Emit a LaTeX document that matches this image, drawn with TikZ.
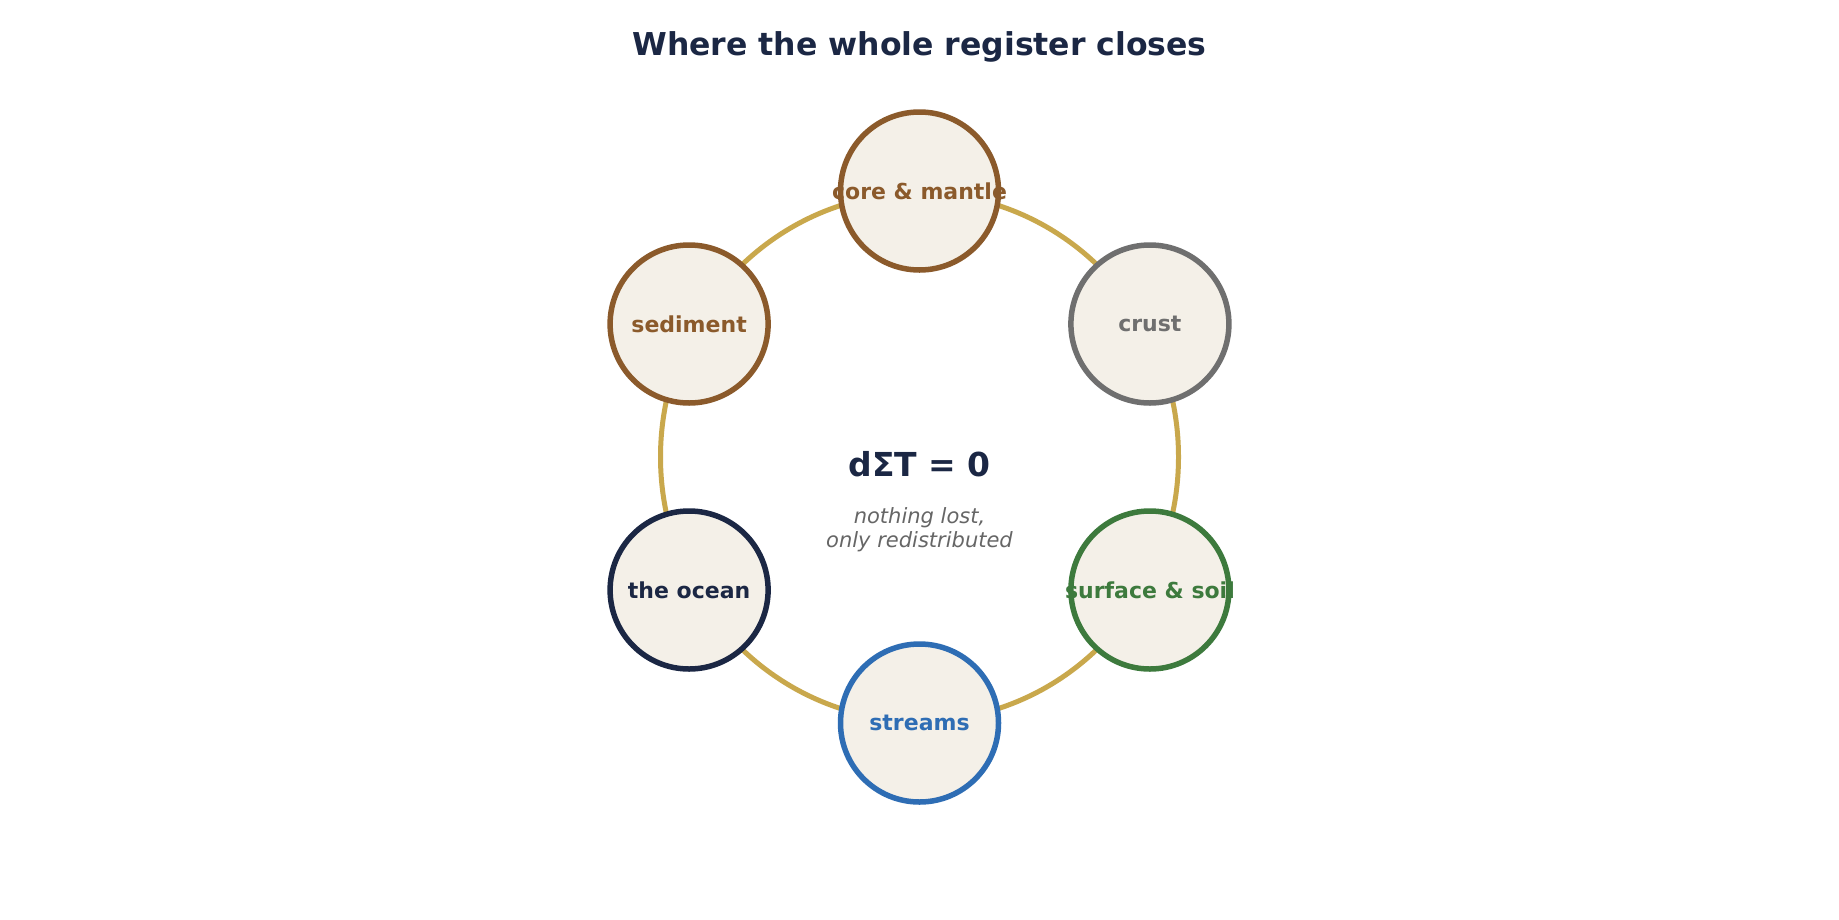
\documentclass[tikz,border=0pt]{standalone}
\usepackage{fontspec}
\setmainfont{DejaVu Sans}
\definecolor{navy}{HTML}{1B2744}
\definecolor{earth}{HTML}{8B5A2B}
\definecolor{stone}{HTML}{6F6F6F}
\definecolor{leaf}{HTML}{3D7A3D}
\definecolor{water}{HTML}{2E6DB4}
\definecolor{ring}{HTML}{C9A84C}
\definecolor{paper}{HTML}{F4F0E8}
\definecolor{note}{HTML}{666666}
\tikzset{
  pool/.style={circle, draw=#1, text=#1, fill=paper, line width=5.5pt,
    minimum size=158pt, inner sep=0pt, font=\fontsize{22}{26}\selectfont\bfseries}
}
\begin{document}
\begin{tikzpicture}[x=1pt, y=-1pt, line join=round, line cap=round]
	\useasboundingbox[fill=white] (0,0) rectangle (1839,919);
	\node (title) at(919.5,47)[text=navy, font=\fontsize{31.5}{36}\selectfont\bfseries]{Where the whole register closes};
	% the closed loop
	\draw[ring, line width=5pt] (919.5,457) ellipse (259 and 264);
	\node (core)     at(919.5,191)[pool=earth]{\makebox[0pt]{core \& mantle}};
	\node (crust)    at(1149.9,324)[pool=stone]{\makebox[0pt]{crust}};
	\node (soil)     at(1149.9,590)[pool=leaf]{\makebox[0pt]{surface \& soil}};
	\node (streams)  at(919.5,723)[pool=water]{\makebox[0pt]{streams}};
	\node (ocean)    at(689.1,590)[pool=navy]{\makebox[0pt]{the ocean}};
	\node (sediment) at(689.1,324)[pool=earth]{\makebox[0pt]{sediment}};
	\node (law) at(919.5,464)[text=navy, font=\fontsize{33}{40}\selectfont\bfseries]{dΣT = 0};
	\node (gloss) at(919.5,530)[text=note, align=center, font=\fontsize{21}{24}\selectfont\itshape]{nothing lost,\\only redistributed};
\end{tikzpicture}
\end{document}
